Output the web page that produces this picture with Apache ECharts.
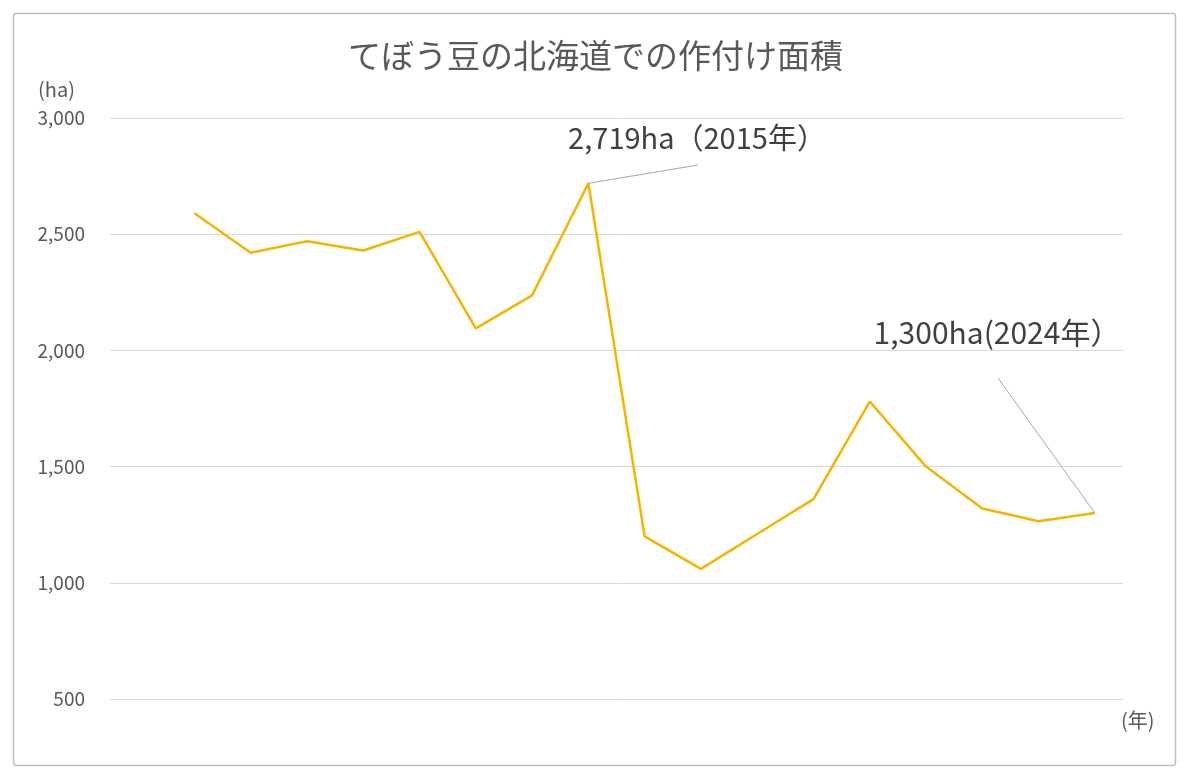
<!DOCTYPE html>
<html>
<head>
<meta charset="utf-8">
<script src="https://cdn.jsdelivr.net/npm/echarts@6/dist/echarts.min.js"></script>
<style>
html,body{margin:0;padding:0;background:#fff;}
#chart{width:1191px;height:774px;}
</style>
</head>
<body>
<div id="chart"></div>
<script>
var years = ['2007','2008','2009','2010','2011','2012','2013','2014','2015','2016','2017','2018','2019','2020','2021','2022','2023','2024'];
var areaHa = [null, 2590, 2420, 2470, 2430, 2510, 2095, 2237, 2719, 1200, 1060, 1210, 1360, 1780, 1500, 1320, 1265, 1300];
var yTicks = [500, 1000, 1500, 2000, 2500, 3000];
var titleText = 'てぼう豆の北海道での作付け面積';
var note2015 = '2,719ha（2015年）';
var note2024 = '1,300ha(2024年）';

var FONT = '"Noto Sans CJK JP", "Noto Sans", sans-serif';
var chart = echarts.init(document.getElementById('chart'));
chart.setOption({
  backgroundColor: '#ffffff',
  animation: false,
  textStyle: { fontFamily: FONT },
  title: {
    text: titleText,
    left: 'center',
    top: 34,
    textStyle: { fontSize: 33, fontWeight: 'normal', color: '#595959', fontFamily: FONT }
  },
  grid: { left: 110, right: 68, top: 118, bottom: 75, containLabel: false },
  xAxis: {
    type: 'category',
    data: years,
    boundaryGap: true,
    axisLine: { show: false },
    axisTick: { show: false },
    axisLabel: { show: false },
    splitLine: { show: false }
  },
  yAxis: {
    type: 'value',
    min: yTicks[0],
    max: yTicks[yTicks.length - 1],
    interval: 500,
    axisLine: { show: false },
    axisTick: { show: false },
    axisLabel: {
      color: '#595959', fontSize: 19, fontFamily: FONT, margin: 25,
      formatter: function (v) { return v.toLocaleString('en-US'); }
    },
    splitLine: { lineStyle: { color: '#d9d9d9', width: 1 } }
  },
  series: [{
    type: 'line',
    data: areaHa,
    symbol: 'none',
    connectNulls: false,
    lineStyle: { color: '#F5B400', width: 2.5 },
    itemStyle: { color: '#F5B400' },
    markLine: {
      silent: true,
      symbol: ['none', 'none'],
      label: { show: false },
      lineStyle: { color: '#a6a6a6', width: 1, type: 'solid' },
      data: [
        [{ coord: ['2015', 2719] }, { x: 698, y: 165 }],
        [{ coord: ['2024', 1300] }, { x: 998, y: 378 }]
      ]
    }
  }],
  graphic: [
    { type: 'rect', shape: { x: 13.5, y: 13.5, width: 1162, height: 752, r: 3 },
      style: { fill: 'none', stroke: '#bfbfbf', lineWidth: 1.5 }, silent: true },
    { type: 'text', left: 38, top: 79,
      style: { text: '(ha)', fill: '#595959', font: '20px ' + FONT } },
    { type: 'text', left: 1121, top: 710,
      style: { text: '(年)', fill: '#595959', font: '20px ' + FONT } },
    { type: 'text', x: 697, y: 138,
      style: { text: note2015, fill: '#404040', font: '29px ' + FONT, align: 'center', verticalAlign: 'middle' } },
    { type: 'text', x: 997, y: 333,
      style: { text: note2024, fill: '#404040', font: '30px ' + FONT, align: 'center', verticalAlign: 'middle' } }
  ]
});
</script>
</body>
</html>
